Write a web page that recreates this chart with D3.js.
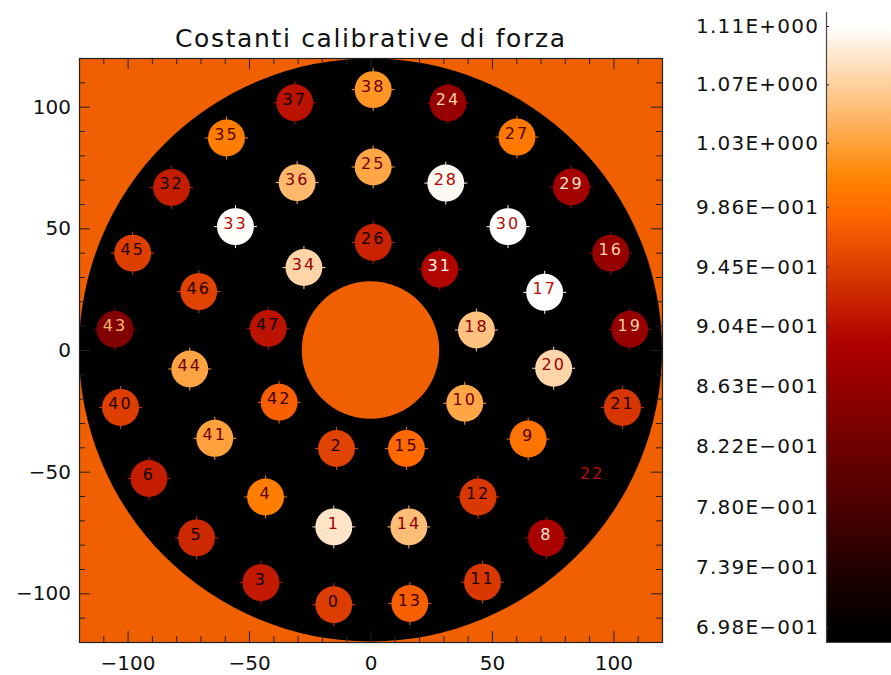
<!DOCTYPE html>
<html>
<head>
<meta charset="utf-8">
<script src="https://cdn.jsdelivr.net/npm/d3@7"></script>
<style>
  body { margin: 0; background: #fff; }
  text { font-family: "DejaVu Sans", sans-serif; }
</style>
</head>
<body>
<div class="container"></div>
<script>
// actuator numbers, positions (plot units) and calibration constants
const actIds = [0, 1, 2, 3, 4, 5, 6, 8, 9, 10, 11, 12, 13, 14, 15, 16, 17, 18, 19, 20, 21, 22,
                24, 25, 26, 27, 28, 29, 30, 31, 32, 33, 34, 35, 36, 37, 38, 40, 41, 42, 43, 44, 45, 46, 47]
const actX = [-15.1, -15.1, -14.0, -45.1, -43.2, -71.6, -91.2, 72.4, 64.9, 38.8, 46.1, 44.3, 16.2, 15.8, 14.8, 98.9, 71.7, 43.6, 106.7, 75.4, 103.7, 91.3,
              31.9, 1.1, 1.1, 60.3, 31.0, 82.7, 56.6, 28.5, -81.9, -55.6, -27.4, -59.3, -30.2, -31.2, 1.1, -102.9, -64.1, -37.6, -105.2, -74.4, -97.9, -70.7, -42.1]
const actY = [-104.7, -72.7, -40.5, -95.6, -60.4, -77.2, -52.8, -77.2, -36.6, -21.9, -95.4, -60.4, -104.2, -72.7, -40.5, 39.8, 23.7, 8.2, 8.5, -7.5, -23.6, -52.3,
              101.5, 75.2, 44.2, 87.5, 68.6, 67.0, 50.7, 33.2, 66.8, 50.7, 33.9, 87.1, 68.8, 101.6, 107.0, -23.6, -36.3, -21.5, 8.5, -7.8, 39.8, 24.0, 8.9]
const actValues = [0.944, 1.087, 0.948, 0.914, 1.000, 0.927, 0.917, 0.887, 0.990, 1.034, 0.940, 0.940, 0.973, 1.054, 0.982, 0.865, 1.115, 1.058, 0.865, 1.075, 0.938, 0.690,
                   0.865, 1.034, 0.921, 0.995, 1.105, 0.880, 1.115, 0.896, 0.917, 1.108, 1.074, 1.000, 1.050, 0.907, 1.020, 0.946, 1.030, 0.973, 0.842, 1.032, 0.946, 0.948, 0.908]

const cbTickValues = [1.11, 1.07, 1.03, 0.986, 0.945, 0.904, 0.863, 0.822, 0.780, 0.739, 0.698]
const cbTickLabels = ["1.11E+000", "1.07E+000", "1.03E+000", "9.86E\u2212001", "9.45E\u2212001", "9.04E\u2212001",
                      "8.63E\u2212001", "8.22E\u2212001", "7.80E\u2212001", "7.39E\u2212001", "6.98E\u2212001"]
const axisTicks = [-100, -50, 0, 50, 100]
const axisMinor = d3.range(-110, 120, 10).filter(d => d % 50 !== 0)

const vMin = 0.698, vMax = 1.11
const diskR = 120, holeR = 28.3, actR = 7.6
const orange = "#f06000"

const width = 891, height = 675

// IDL "red temperature" style table
function ct(t) {
    const i = t * 255
    const r = Math.min(255, i * 255 / 176)
    const g = Math.max(0, Math.min(255, (i - 120) * 255 / 135))
    const b = Math.max(0, Math.min(255, (i - 190) * 255 / 65))
    return d3.rgb(r, g, b).toString()
}
const tOf = v => Math.max(0, Math.min(1, (v - vMin) / (vMax - vMin)))
const fillOf = v => ct(tOf(v))
const labelOf = v => ct((tOf(v) + 0.5) % 1)

const x = d3.scaleLinear().domain([-120, 120]).range([79, 662])
const y = d3.scaleLinear().domain([-120, 120]).range([642, 58])
const px = r => x(r) - x(0)

const svg = d3.select(".container").append("svg")
    .attr("width", width)
    .attr("height", height)

svg.append("defs").append("clipPath").attr("id", "plotclip")
    .append("rect").attr("x", 79).attr("y", 58).attr("width", 583).attr("height", 584)

const plot = svg.append("g").attr("clip-path", "url(#plotclip)")

plot.append("rect")
    .attr("x", 79).attr("y", 58).attr("width", 583).attr("height", 584)
    .attr("fill", orange)

plot.append("circle")
    .attr("cx", x(0)).attr("cy", y(0)).attr("r", px(diskR))
    .attr("fill", "#000")

plot.append("circle")
    .attr("cx", x(0)).attr("cy", y(0)).attr("r", px(holeR))
    .attr("fill", orange)

const acts = actIds.map((id, i) => ({id: id, x: actX[i], y: actY[i], v: actValues[i]}))

const g = plot.selectAll("g.act")
    .data(acts)
    .enter()
    .append("g")
    .attr("class", "act")
    .attr("transform", d => `translate(${x(d.x)},${y(d.y)})`)

const ext = px(actR) + 3
g.append("path")
    .attr("d", `M${-ext},0H${ext}M0,${-ext}V${ext}`)
    .attr("stroke", d => fillOf(d.v))
    .attr("stroke-width", 1)

g.append("circle")
    .attr("r", px(actR))
    .attr("fill", d => fillOf(d.v))

g.append("text")
    .attr("x", 0)
    .attr("y", 2)
    .attr("text-anchor", "middle")
    .attr("font-size", 16)
    .attr("letter-spacing", 2)
    .attr("fill", d => labelOf(d.v))
    .text(d => d.id)

// axes, ticks inward on four sides
function styleAxis(sel) {
    sel.selectAll("line").attr("stroke", "#222")
    sel.selectAll("text").attr("font-size", 20).attr("fill", "#111")
        .style("font-family", "DejaVu Sans, sans-serif")
}
const fmt = d => d < 0 ? "\u2212" + Math.abs(d) : String(d)

svg.append("g").attr("transform", "translate(0,642)")
    .call(d3.axisBottom(x).tickValues(axisTicks).tickSize(-11).tickSizeOuter(0).tickPadding(14).tickFormat(fmt))
    .call(styleAxis).select(".domain").remove()
svg.append("g").attr("transform", "translate(0,642)")
    .call(d3.axisBottom(x).tickValues(axisMinor).tickSize(-6).tickSizeOuter(0).tickFormat(""))
    .call(styleAxis).select(".domain").remove()
svg.append("g").attr("transform", "translate(0,58)")
    .call(d3.axisTop(x).tickValues(axisTicks).tickSize(-11).tickSizeOuter(0).tickFormat(""))
    .call(styleAxis).select(".domain").remove()
svg.append("g").attr("transform", "translate(0,58)")
    .call(d3.axisTop(x).tickValues(axisMinor).tickSize(-6).tickSizeOuter(0).tickFormat(""))
    .call(styleAxis).select(".domain").remove()

svg.append("g").attr("transform", "translate(79,0)")
    .call(d3.axisLeft(y).tickValues(axisTicks).tickSize(-11).tickSizeOuter(0).tickPadding(8).tickFormat(fmt))
    .call(styleAxis).select(".domain").remove()
svg.append("g").attr("transform", "translate(79,0)")
    .call(d3.axisLeft(y).tickValues(axisMinor).tickSize(-6).tickSizeOuter(0).tickFormat(""))
    .call(styleAxis).select(".domain").remove()
svg.append("g").attr("transform", "translate(662,0)")
    .call(d3.axisRight(y).tickValues(axisTicks).tickSize(-11).tickSizeOuter(0).tickFormat(""))
    .call(styleAxis).select(".domain").remove()
svg.append("g").attr("transform", "translate(662,0)")
    .call(d3.axisRight(y).tickValues(axisMinor).tickSize(-6).tickSizeOuter(0).tickFormat(""))
    .call(styleAxis).select(".domain").remove()

svg.append("rect")
    .attr("x", 79.5).attr("y", 58.5).attr("width", 583).attr("height", 584)
    .attr("fill", "none").attr("stroke", "#222").attr("stroke-width", 1.2)

svg.append("text")
    .attr("x", 370).attr("y", 47)
    .attr("text-anchor", "middle")
    .attr("font-size", 25)
    .attr("textLength", 390)
    .attr("fill", "#111")
    .text("Costanti calibrative di forza")

// colour bar
const cb = d3.scaleLinear().domain([vMin, vMax]).range([627, 26])
const cbTop = 13, cbBottom = 642

const grad = svg.select("defs").append("linearGradient")
    .attr("id", "cbgrad")
    .attr("x1", 0).attr("y1", 1).attr("x2", 0).attr("y2", 0)
grad.selectAll("stop")
    .data(d3.range(0, 1.0001, 0.02))
    .enter()
    .append("stop")
    .attr("offset", d => d)
    .attr("stop-color", d => fillOf(cb.invert(cbBottom - d * (cbBottom - cbTop))))

svg.append("rect")
    .attr("x", 827).attr("y", cbTop).attr("width", 64).attr("height", cbBottom - cbTop)
    .attr("fill", "url(#cbgrad)")

svg.append("g").attr("transform", "translate(826,0)")
    .call(d3.axisLeft(cb).tickValues(cbTickValues).tickSize(-3).tickSizeOuter(0).tickPadding(8)
        .tickFormat((d, i) => cbTickLabels[i]))
    .call(styleAxis)
    .call(a => a.selectAll("text").attr("textLength", 122).attr("lengthAdjust", "spacing"))
    .select(".domain").remove()

svg.append("path")
    .attr("d", `M826.5,${cbTop - 1}V${cbBottom + 0.5}H891`)
    .attr("fill", "none").attr("stroke", "#444").attr("stroke-width", 1.2)
</script>
</body>
</html>
